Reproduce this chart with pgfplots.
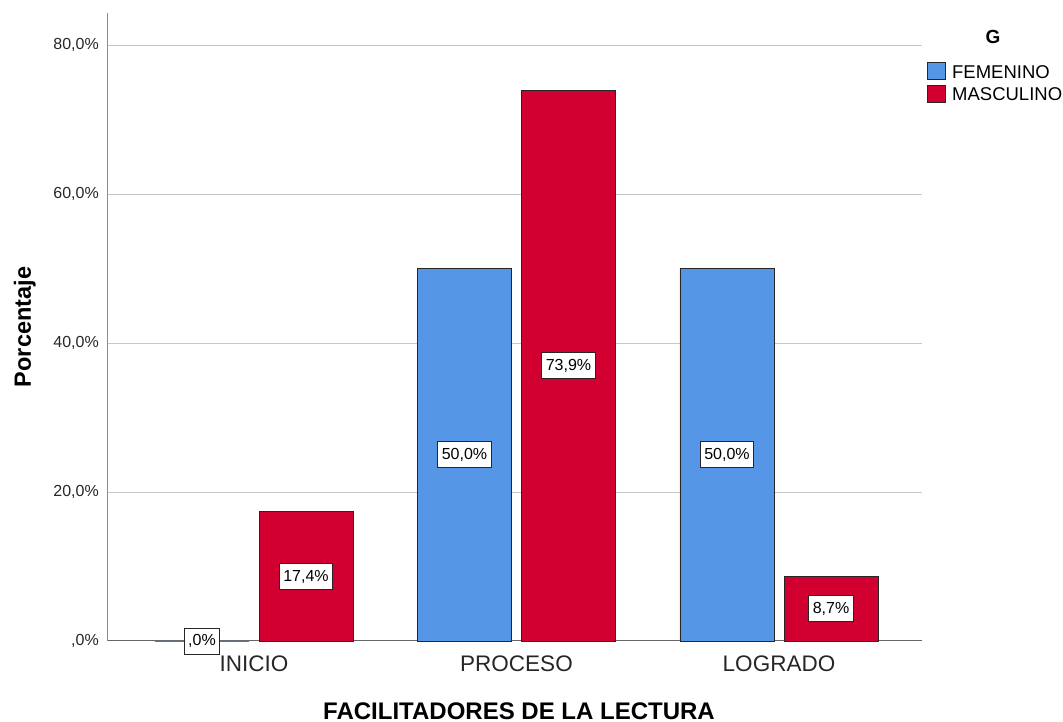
\documentclass[border=0pt]{standalone}
\usepackage{pgfplots}
\pgfplotsset{compat=1.18}
\usepackage{pgfplotstable}
\usepackage{fontspec}
\setmainfont{Liberation Sans}
\definecolor{fem}{RGB}{85,150,230}
\definecolor{masc}{RGB}{210,0,48}
\definecolor{gridc}{RGB}{200,200,200}
\definecolor{axc}{RGB}{140,140,140}

\pgfplotstableread{
x fem masc femlab masclab
0 0.0 17.4 ,0\% 17,4\%
1 50.0 73.9 50,0\% 73,9\%
2 50.0 8.7 50,0\% 8,7\%
}\data

\tikzset{vlab/.style={fill=white, draw=black!85, line width=0.9pt, inner xsep=4pt, inner ysep=6.5pt,
  text height=11.5pt, text depth=1.5pt, anchor=center, font=\fontsize{16}{18}\selectfont, text=black}}

\begin{document}
\begin{tikzpicture}
\useasboundingbox (-108pt,-81pt) rectangle (955pt,641pt);
\begin{axis}[
  at={(0,0)}, anchor=south west,
  scale only axis, width=814pt, height=628pt,
  xmin=-0.5562, xmax=2.5448, ymin=0, ymax=84.3,
  axis x line*=bottom, axis y line*=left,
  x axis line style={-, draw=black!60, line width=1pt},
  y axis line style={-, draw=axc, line width=1pt},
  major tick length=0pt,
  ytick={0,20,40,60,80},
  yticklabels={{,0\%},{20,0\%},{40,0\%},{60,0\%},{80,0\%}},
  xtick={0,1,2},
  xticklabels={INICIO,PROCESO,LOGRADO},
  yticklabel style={font=\fontsize{16}{18}\selectfont, inner sep=0pt, xshift=-9pt, text=black!85},
  xticklabel style={font=\fontsize{22.5}{24}\selectfont, inner sep=0pt, yshift=-15pt, text=black!85},
  ymajorgrids, grid style={gridc, line width=1pt},
  xlabel={\bfseries FACILITADORES DE LA LECTURA},
  ylabel={\bfseries Porcentaje},
  xlabel style={at={(axis description cs:0.5049,-0.1242)}, anchor=base, font=\fontsize{24}{26}\selectfont},
  ylabel style={at={(axis description cs:-0.0946,0.5)}, anchor=base, rotate=0, font=\fontsize{23.5}{26}\selectfont},
  legend style={at={(axis description cs:1.006,0.922)}, anchor=north west, draw=none, fill=none,
    inner sep=0pt, outer sep=0pt, font=\fontsize{18.5}{20}\selectfont, row sep=5pt,
    nodes={inner sep=0pt}},
  legend cell align=left,
  clip=false,
]
\addplot[ybar, bar width=94pt, bar shift=-52pt, fill=fem, draw=black!85, line width=0.8pt,
  legend image code/.code={\draw[fill=fem, draw=black!85, line width=0.8pt] (0pt,0pt) rectangle (18pt,17pt); \path (24.5pt,0pt);}]
  table[x=x, y=fem] {\data};
\addlegendentry[yshift=7pt]{FEMENINO}
\addplot[ybar, bar width=94pt, bar shift=52pt, fill=masc, draw=black!85, line width=0.8pt,
  legend image code/.code={\draw[fill=masc, draw=black!85, line width=0.8pt] (0pt,0pt) rectangle (18pt,17pt); \path (24.5pt,0pt);}]
  table[x=x, y=masc] {\data};
\addlegendentry[yshift=7pt]{MASCULINO}
\addplot[forget plot, draw=none, mark=none, nodes near coords, point meta=explicit symbolic,
  every node near coord/.style={vlab}]
  table[x expr=\thisrow{x}-0.1981, y expr=\thisrow{fem}/2, meta=femlab] {\data};
\addplot[forget plot, draw=none, mark=none, nodes near coords, point meta=explicit symbolic,
  every node near coord/.style={vlab}]
  table[x expr=\thisrow{x}+0.1981, y expr=\thisrow{masc}/2, meta=masclab] {\data};
\node[anchor=base, font=\fontsize{19}{21}\selectfont\bfseries] at (axis description cs:1.0872,0.952) {G};
\end{axis}
\end{tikzpicture}
\end{document}
